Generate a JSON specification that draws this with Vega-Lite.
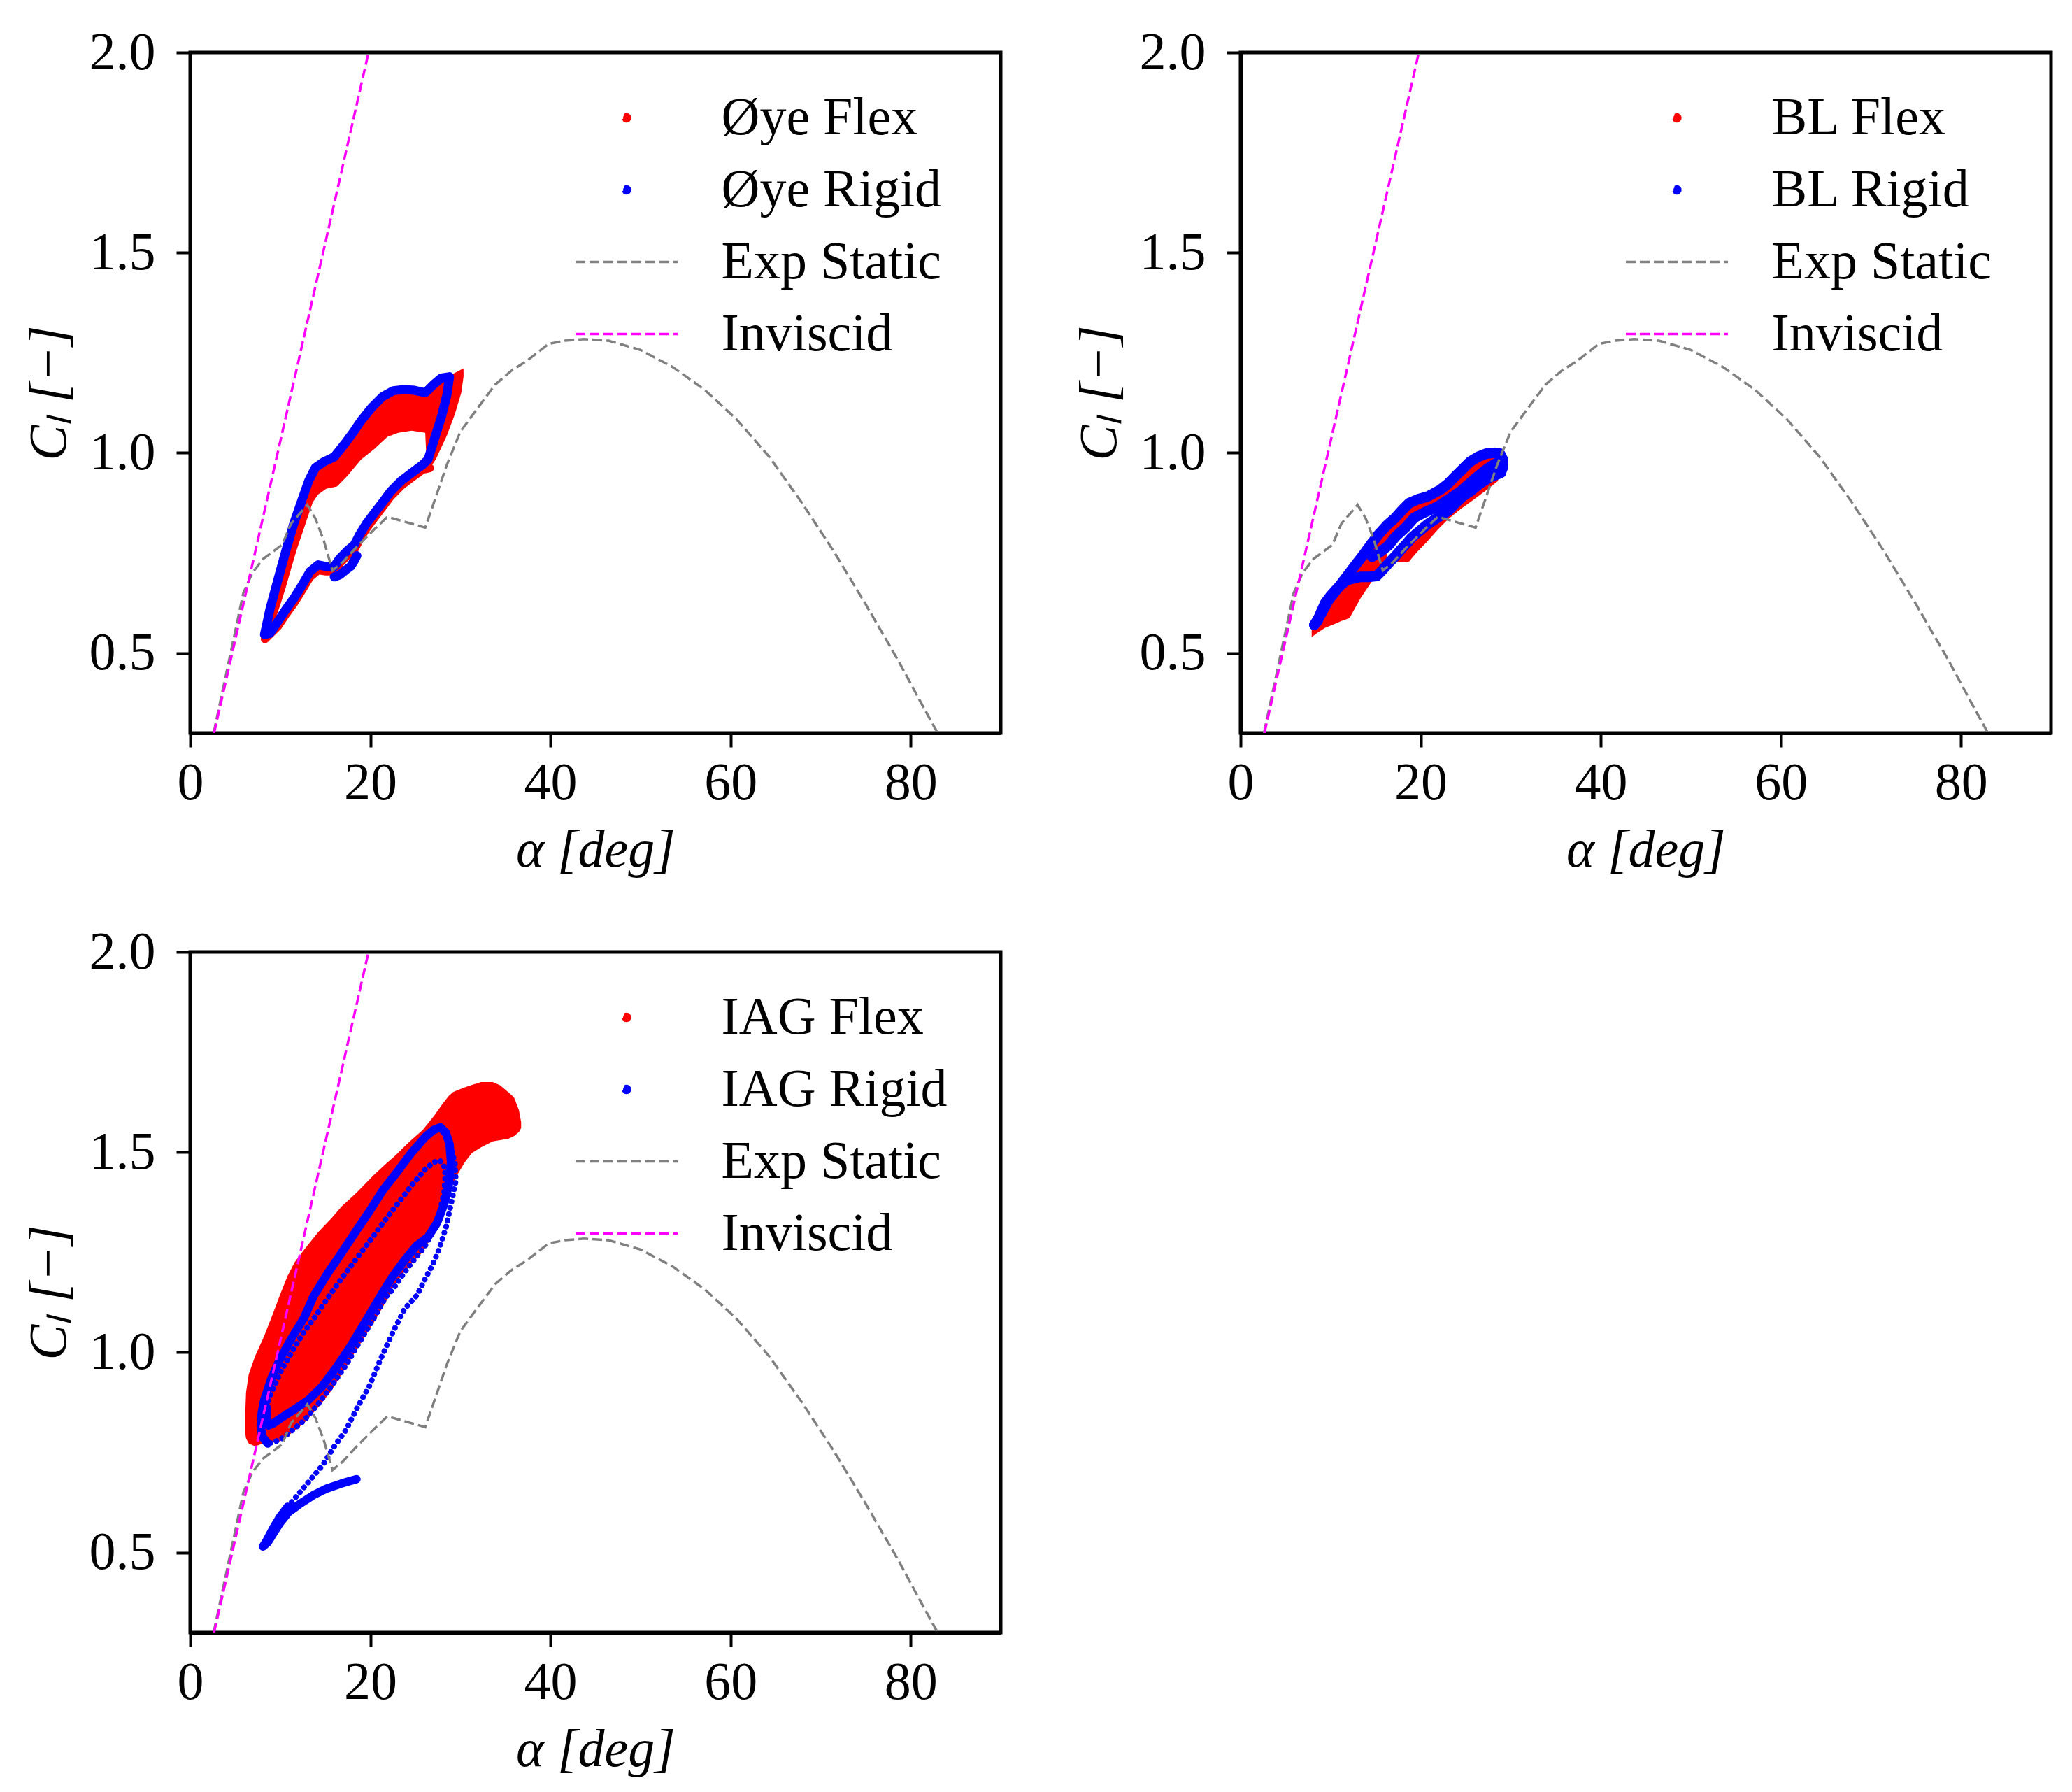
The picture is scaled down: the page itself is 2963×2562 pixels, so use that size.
{
  "$schema": "https://vega.github.io/schema/vega-lite/v6.json",
  "background": "white",
  "padding": {"left": 29, "top": 34, "right": 10, "bottom": 5},
  "config": {
    "font": "Liberation Serif",
    "view": {"stroke": "black", "strokeWidth": 5},
    "axis": {
      "grid": false,
      "domainColor": "black",
      "domainWidth": 5,
      "tickColor": "black",
      "tickWidth": 4,
      "tickSize": 20,
      "labelFont": "Liberation Serif",
      "labelFontSize": 76,
      "labelColor": "black",
      "labelOverlap": false,
      "labelFlush": false,
      "titleFont": "Liberation Serif",
      "titleFontSize": 76,
      "titleFontWeight": "normal",
      "titleFontStyle": "italic",
      "titleColor": "black"
    },
    "axisX": {"labelPadding": 14, "titlePadding": 21},
    "axisY": {"labelPadding": 30, "titlePadding": 18},
    "legend": {
      "orient": "none",
      "legendX": 551,
      "legendY": 42,
      "padding": 0,
      "rowPadding": 13,
      "symbolSize": 9900,
      "symbolStrokeWidth": 3.5,
      "symbolOffset": 21.5,
      "labelOffset": 84,
      "labelFont": "Liberation Serif",
      "labelFontSize": 76,
      "labelColor": "black",
      "labelLimit": 2000
    }
  },
  "datasets": {
    "ref": [
      {"s": "Exp Static", "a": 2.6, "c": 0.3},
      {"s": "Exp Static", "a": 4.3, "c": 0.48},
      {"s": "Exp Static", "a": 5.9, "c": 0.65},
      {"s": "Exp Static", "a": 6.9, "c": 0.7},
      {"s": "Exp Static", "a": 8.1, "c": 0.735},
      {"s": "Exp Static", "a": 10.2, "c": 0.77},
      {"s": "Exp Static", "a": 11.2, "c": 0.823},
      {"s": "Exp Static", "a": 13.0, "c": 0.87},
      {"s": "Exp Static", "a": 13.9, "c": 0.836},
      {"s": "Exp Static", "a": 14.8, "c": 0.783},
      {"s": "Exp Static", "a": 15.8, "c": 0.706},
      {"s": "Exp Static", "a": 16.9, "c": 0.726},
      {"s": "Exp Static", "a": 18.4, "c": 0.763},
      {"s": "Exp Static", "a": 20.5, "c": 0.81},
      {"s": "Exp Static", "a": 21.9, "c": 0.84},
      {"s": "Exp Static", "a": 26.1, "c": 0.813},
      {"s": "Exp Static", "a": 28.5, "c": 0.97},
      {"s": "Exp Static", "a": 30.0, "c": 1.053},
      {"s": "Exp Static", "a": 32.1, "c": 1.117},
      {"s": "Exp Static", "a": 33.85, "c": 1.17},
      {"s": "Exp Static", "a": 35.6, "c": 1.204},
      {"s": "Exp Static", "a": 37.4, "c": 1.23},
      {"s": "Exp Static", "a": 39.8, "c": 1.272},
      {"s": "Exp Static", "a": 41.6, "c": 1.28},
      {"s": "Exp Static", "a": 43.7, "c": 1.284},
      {"s": "Exp Static", "a": 46.45, "c": 1.28},
      {"s": "Exp Static", "a": 50.0, "c": 1.257},
      {"s": "Exp Static", "a": 53.6, "c": 1.214},
      {"s": "Exp Static", "a": 57.15, "c": 1.157},
      {"s": "Exp Static", "a": 60.7, "c": 1.083},
      {"s": "Exp Static", "a": 64.3, "c": 0.99},
      {"s": "Exp Static", "a": 67.9, "c": 0.876},
      {"s": "Exp Static", "a": 71.4, "c": 0.756},
      {"s": "Exp Static", "a": 75.0, "c": 0.622},
      {"s": "Exp Static", "a": 78.6, "c": 0.482},
      {"s": "Exp Static", "a": 81.0, "c": 0.382},
      {"s": "Exp Static", "a": 82.9, "c": 0.304},
      {"s": "Inviscid", "a": 2.65, "c": 0.3},
      {"s": "Inviscid", "a": 19.8, "c": 2.0}
    ],
    "p1_area": [
      {"s": "Øye Flex", "a": 8.2, "lo": 0.545, "hi": 0.555},
      {"s": "Øye Flex", "a": 8.85, "lo": 0.56, "hi": 0.609},
      {"s": "Øye Flex", "a": 9.44, "lo": 0.583, "hi": 0.66},
      {"s": "Øye Flex", "a": 10.04, "lo": 0.623, "hi": 0.707},
      {"s": "Øye Flex", "a": 10.6, "lo": 0.663, "hi": 0.752},
      {"s": "Øye Flex", "a": 11.2, "lo": 0.71, "hi": 0.8},
      {"s": "Øye Flex", "a": 11.8, "lo": 0.756, "hi": 0.842},
      {"s": "Øye Flex", "a": 12.4, "lo": 0.796, "hi": 0.882},
      {"s": "Øye Flex", "a": 13.0, "lo": 0.836, "hi": 0.92},
      {"s": "Øye Flex", "a": 13.6, "lo": 0.876, "hi": 0.952},
      {"s": "Øye Flex", "a": 14.2, "lo": 0.896, "hi": 0.968},
      {"s": "Øye Flex", "a": 15.1, "lo": 0.91, "hi": 0.98},
      {"s": "Øye Flex", "a": 16.3, "lo": 0.916, "hi": 0.995},
      {"s": "Øye Flex", "a": 17.48, "lo": 0.943, "hi": 1.03},
      {"s": "Øye Flex", "a": 18.97, "lo": 0.983, "hi": 1.08},
      {"s": "Øye Flex", "a": 20.46, "lo": 1.01, "hi": 1.12},
      {"s": "Øye Flex", "a": 21.9, "lo": 1.04, "hi": 1.148},
      {"s": "Øye Flex", "a": 23.1, "lo": 1.05, "hi": 1.157},
      {"s": "Øye Flex", "a": 24.6, "lo": 1.055, "hi": 1.157},
      {"s": "Øye Flex", "a": 26.1, "lo": 1.05, "hi": 1.15},
      {"s": "Øye Flex", "a": 26.3, "lo": 0.95, "hi": 1.155},
      {"s": "Øye Flex", "a": 27.3, "lo": 0.985, "hi": 1.172},
      {"s": "Øye Flex", "a": 28.5, "lo": 1.043, "hi": 1.19},
      {"s": "Øye Flex", "a": 29.4, "lo": 1.097, "hi": 1.2},
      {"s": "Øye Flex", "a": 30.1, "lo": 1.15, "hi": 1.208},
      {"s": "Øye Flex", "a": 30.35, "lo": 1.19, "hi": 1.21}
    ],
    "p1_red": [
      {"s": "Øye Flex", "p": "r", "i": 1, "a": 8.3, "c": 0.535},
      {"s": "Øye Flex", "p": "r", "i": 2, "a": 9.74, "c": 0.567},
      {"s": "Øye Flex", "p": "r", "i": 3, "a": 10.63, "c": 0.597},
      {"s": "Øye Flex", "p": "r", "i": 4, "a": 11.5, "c": 0.624},
      {"s": "Øye Flex", "p": "r", "i": 5, "a": 12.42, "c": 0.657},
      {"s": "Øye Flex", "p": "r", "i": 6, "a": 13.3, "c": 0.69},
      {"s": "Øye Flex", "p": "r", "i": 7, "a": 14.2, "c": 0.707},
      {"s": "Øye Flex", "p": "r", "i": 8, "a": 15.1, "c": 0.704},
      {"s": "Øye Flex", "p": "r", "i": 9, "a": 16.0, "c": 0.704},
      {"s": "Øye Flex", "p": "r", "i": 10, "a": 16.6, "c": 0.724},
      {"s": "Øye Flex", "p": "r", "i": 11, "a": 17.48, "c": 0.744},
      {"s": "Øye Flex", "p": "r", "i": 12, "a": 18.22, "c": 0.758},
      {"s": "Øye Flex", "p": "r", "i": 13, "a": 18.82, "c": 0.784},
      {"s": "Øye Flex", "p": "r", "i": 14, "a": 19.56, "c": 0.811},
      {"s": "Øye Flex", "p": "r", "i": 15, "a": 20.46, "c": 0.838},
      {"s": "Øye Flex", "p": "r", "i": 16, "a": 21.35, "c": 0.864},
      {"s": "Øye Flex", "p": "r", "i": 17, "a": 22.24, "c": 0.891},
      {"s": "Øye Flex", "p": "r", "i": 18, "a": 23.43, "c": 0.918},
      {"s": "Øye Flex", "p": "r", "i": 19, "a": 24.6, "c": 0.938},
      {"s": "Øye Flex", "p": "r", "i": 20, "a": 25.8, "c": 0.958},
      {"s": "Øye Flex", "p": "r", "i": 21, "a": 26.6, "c": 0.962}
    ],
    "p1_blue": [
      {"s": "Øye Rigid", "p": "a", "i": 1, "a": 8.25, "c": 0.546},
      {"s": "Øye Rigid", "p": "a", "i": 2, "a": 8.85, "c": 0.609},
      {"s": "Øye Rigid", "p": "a", "i": 3, "a": 9.74, "c": 0.683},
      {"s": "Øye Rigid", "p": "a", "i": 4, "a": 10.63, "c": 0.756},
      {"s": "Øye Rigid", "p": "a", "i": 5, "a": 11.5, "c": 0.823},
      {"s": "Øye Rigid", "p": "a", "i": 6, "a": 12.42, "c": 0.883},
      {"s": "Øye Rigid", "p": "a", "i": 7, "a": 13.16, "c": 0.93},
      {"s": "Øye Rigid", "p": "a", "i": 8, "a": 13.9, "c": 0.963},
      {"s": "Øye Rigid", "p": "a", "i": 9, "a": 14.8, "c": 0.977},
      {"s": "Øye Rigid", "p": "a", "i": 10, "a": 16.0, "c": 0.99},
      {"s": "Øye Rigid", "p": "a", "i": 11, "a": 17.18, "c": 1.023},
      {"s": "Øye Rigid", "p": "a", "i": 12, "a": 18.07, "c": 1.05},
      {"s": "Øye Rigid", "p": "a", "i": 13, "a": 18.97, "c": 1.08},
      {"s": "Øye Rigid", "p": "a", "i": 14, "a": 20.16, "c": 1.113},
      {"s": "Øye Rigid", "p": "a", "i": 15, "a": 21.35, "c": 1.14},
      {"s": "Øye Rigid", "p": "a", "i": 16, "a": 22.54, "c": 1.155},
      {"s": "Øye Rigid", "p": "a", "i": 17, "a": 23.73, "c": 1.158},
      {"s": "Øye Rigid", "p": "a", "i": 18, "a": 24.92, "c": 1.156},
      {"s": "Øye Rigid", "p": "a", "i": 19, "a": 26.1, "c": 1.15},
      {"s": "Øye Rigid", "p": "a", "i": 20, "a": 27.0, "c": 1.17},
      {"s": "Øye Rigid", "p": "a", "i": 21, "a": 27.9, "c": 1.187},
      {"s": "Øye Rigid", "p": "a", "i": 22, "a": 28.79, "c": 1.19},
      {"s": "Øye Rigid", "p": "a", "i": 23, "a": 28.5, "c": 1.144},
      {"s": "Øye Rigid", "p": "a", "i": 24, "a": 27.9, "c": 1.09},
      {"s": "Øye Rigid", "p": "a", "i": 25, "a": 27.15, "c": 1.037},
      {"s": "Øye Rigid", "p": "a", "i": 26, "a": 26.41, "c": 0.983},
      {"s": "Øye Rigid", "p": "a", "i": 27, "a": 25.8, "c": 0.97},
      {"s": "Øye Rigid", "p": "a", "i": 28, "a": 24.6, "c": 0.95},
      {"s": "Øye Rigid", "p": "a", "i": 29, "a": 23.43, "c": 0.93},
      {"s": "Øye Rigid", "p": "a", "i": 30, "a": 22.24, "c": 0.903},
      {"s": "Øye Rigid", "p": "a", "i": 31, "a": 21.35, "c": 0.876},
      {"s": "Øye Rigid", "p": "a", "i": 32, "a": 20.46, "c": 0.85},
      {"s": "Øye Rigid", "p": "a", "i": 33, "a": 19.56, "c": 0.823},
      {"s": "Øye Rigid", "p": "a", "i": 34, "a": 18.82, "c": 0.796},
      {"s": "Øye Rigid", "p": "a", "i": 35, "a": 18.22, "c": 0.77},
      {"s": "Øye Rigid", "p": "a", "i": 36, "a": 17.48, "c": 0.756},
      {"s": "Øye Rigid", "p": "a", "i": 37, "a": 16.6, "c": 0.736},
      {"s": "Øye Rigid", "p": "a", "i": 38, "a": 16.0, "c": 0.716},
      {"s": "Øye Rigid", "p": "a", "i": 39, "a": 15.1, "c": 0.716},
      {"s": "Øye Rigid", "p": "a", "i": 40, "a": 14.2, "c": 0.72},
      {"s": "Øye Rigid", "p": "a", "i": 41, "a": 13.3, "c": 0.703},
      {"s": "Øye Rigid", "p": "a", "i": 42, "a": 12.42, "c": 0.669},
      {"s": "Øye Rigid", "p": "a", "i": 43, "a": 11.5, "c": 0.636},
      {"s": "Øye Rigid", "p": "a", "i": 44, "a": 10.63, "c": 0.609},
      {"s": "Øye Rigid", "p": "a", "i": 45, "a": 9.74, "c": 0.579},
      {"s": "Øye Rigid", "p": "a", "i": 46, "a": 8.85, "c": 0.549},
      {"s": "Øye Rigid", "p": "a", "i": 47, "a": 8.25, "c": 0.546},
      {"s": "Øye Rigid", "p": "b", "i": 1, "a": 16.0, "c": 0.69},
      {"s": "Øye Rigid", "p": "b", "i": 2, "a": 16.6, "c": 0.695},
      {"s": "Øye Rigid", "p": "b", "i": 3, "a": 17.2, "c": 0.706},
      {"s": "Øye Rigid", "p": "b", "i": 4, "a": 17.8, "c": 0.716},
      {"s": "Øye Rigid", "p": "b", "i": 5, "a": 18.2, "c": 0.73},
      {"s": "Øye Rigid", "p": "b", "i": 6, "a": 18.5, "c": 0.743}
    ],
    "p2_area": [
      {"s": "BL Flex", "p": "a", "a": 7.9, "lo": 0.54, "hi": 0.56},
      {"s": "BL Flex", "p": "a", "a": 8.5, "lo": 0.55, "hi": 0.585},
      {"s": "BL Flex", "p": "a", "a": 9.4, "lo": 0.563, "hi": 0.625},
      {"s": "BL Flex", "p": "a", "a": 10.6, "lo": 0.574, "hi": 0.662},
      {"s": "BL Flex", "p": "a", "a": 11.2, "lo": 0.58, "hi": 0.675},
      {"s": "BL Flex", "p": "a", "a": 12.1, "lo": 0.587, "hi": 0.7},
      {"s": "BL Flex", "p": "a", "a": 13.3, "lo": 0.636, "hi": 0.74},
      {"s": "BL Flex", "p": "a", "a": 14.5, "lo": 0.676, "hi": 0.772},
      {"s": "BL Flex", "p": "a", "a": 15.4, "lo": 0.705, "hi": 0.798},
      {"s": "BL Flex", "p": "a", "a": 16.0, "lo": 0.718, "hi": 0.81},
      {"s": "BL Flex", "p": "a", "a": 16.3, "lo": 0.722, "hi": 0.725},
      {"s": "BL Flex", "p": "a", "a": 16.6, "lo": 0.725, "hi": 0.735},
      {"s": "BL Flex", "p": "a", "a": 17.8, "lo": 0.728, "hi": 0.765},
      {"s": "BL Flex", "p": "a", "a": 18.7, "lo": 0.728, "hi": 0.785},
      {"s": "BL Flex", "p": "a", "a": 19.6, "lo": 0.752, "hi": 0.81},
      {"s": "BL Flex", "p": "a", "a": 20.8, "lo": 0.78, "hi": 0.83},
      {"s": "BL Flex", "p": "a", "a": 21.9, "lo": 0.808, "hi": 0.845},
      {"s": "BL Flex", "p": "a", "a": 23.1, "lo": 0.835, "hi": 0.865},
      {"s": "BL Flex", "p": "a", "a": 24.6, "lo": 0.862, "hi": 0.895},
      {"s": "BL Flex", "p": "a", "a": 26.0, "lo": 0.885, "hi": 0.92},
      {"s": "BL Flex", "p": "a", "a": 27.5, "lo": 0.91, "hi": 0.945},
      {"s": "BL Flex", "p": "a", "a": 28.6, "lo": 0.93, "hi": 0.958},
      {"s": "BL Flex", "p": "b", "a": 15.0, "lo": 0.745, "hi": 0.79},
      {"s": "BL Flex", "p": "b", "a": 17.2, "lo": 0.79, "hi": 0.838},
      {"s": "BL Flex", "p": "b", "a": 19.3, "lo": 0.838, "hi": 0.882},
      {"s": "BL Flex", "p": "b", "a": 21.9, "lo": 0.866, "hi": 0.905},
      {"s": "BL Flex", "p": "b", "a": 24.5, "lo": 0.905, "hi": 0.955},
      {"s": "BL Flex", "p": "b", "a": 27.5, "lo": 0.962, "hi": 0.995},
      {"s": "BL Flex", "p": "b", "a": 28.7, "lo": 0.978, "hi": 0.998}
    ],
    "p2_blue": [
      {"s": "BL Rigid", "p": "u", "i": 1, "a": 8.2, "c": 0.57},
      {"s": "BL Rigid", "p": "u", "i": 2, "a": 9.0, "c": 0.6},
      {"s": "BL Rigid", "p": "u", "i": 3, "a": 9.74, "c": 0.631},
      {"s": "BL Rigid", "p": "u", "i": 4, "a": 10.8, "c": 0.662},
      {"s": "BL Rigid", "p": "u", "i": 5, "a": 11.8, "c": 0.691},
      {"s": "BL Rigid", "p": "u", "i": 6, "a": 12.7, "c": 0.718},
      {"s": "BL Rigid", "p": "u", "i": 7, "a": 13.6, "c": 0.744},
      {"s": "BL Rigid", "p": "u", "i": 8, "a": 14.5, "c": 0.772},
      {"s": "BL Rigid", "p": "u", "i": 9, "a": 15.4, "c": 0.798},
      {"s": "BL Rigid", "p": "u", "i": 10, "a": 16.3, "c": 0.82},
      {"s": "BL Rigid", "p": "u", "i": 11, "a": 17.2, "c": 0.838},
      {"s": "BL Rigid", "p": "u", "i": 12, "a": 18.0, "c": 0.858},
      {"s": "BL Rigid", "p": "u", "i": 13, "a": 18.7, "c": 0.874},
      {"s": "BL Rigid", "p": "u", "i": 14, "a": 19.7, "c": 0.884},
      {"s": "BL Rigid", "p": "u", "i": 15, "a": 20.8, "c": 0.891},
      {"s": "BL Rigid", "p": "u", "i": 16, "a": 22.2, "c": 0.908},
      {"s": "BL Rigid", "p": "u", "i": 17, "a": 23.0, "c": 0.922},
      {"s": "BL Rigid", "p": "u", "i": 18, "a": 23.7, "c": 0.938},
      {"s": "BL Rigid", "p": "u", "i": 19, "a": 24.6, "c": 0.958},
      {"s": "BL Rigid", "p": "u", "i": 20, "a": 25.5, "c": 0.978},
      {"s": "BL Rigid", "p": "u", "i": 21, "a": 26.4, "c": 0.99},
      {"s": "BL Rigid", "p": "u", "i": 22, "a": 27.3, "c": 0.998},
      {"s": "BL Rigid", "p": "u", "i": 23, "a": 28.2, "c": 1.0},
      {"s": "BL Rigid", "p": "u", "i": 24, "a": 28.8, "c": 0.998},
      {"s": "BL Rigid", "p": "u", "i": 25, "a": 29.1, "c": 0.985},
      {"s": "BL Rigid", "p": "u", "i": 26, "a": 29.15, "c": 0.965},
      {"s": "BL Rigid", "p": "u", "i": 27, "a": 28.9, "c": 0.95},
      {"s": "BL Rigid", "p": "l", "i": 1, "a": 28.9, "c": 0.95},
      {"s": "BL Rigid", "p": "l", "i": 2, "a": 27.8, "c": 0.94},
      {"s": "BL Rigid", "p": "l", "i": 3, "a": 26.7, "c": 0.925},
      {"s": "BL Rigid", "p": "l", "i": 4, "a": 25.6, "c": 0.905},
      {"s": "BL Rigid", "p": "l", "i": 5, "a": 24.6, "c": 0.89},
      {"s": "BL Rigid", "p": "l", "i": 6, "a": 23.6, "c": 0.868},
      {"s": "BL Rigid", "p": "l", "i": 7, "a": 23.1, "c": 0.856},
      {"s": "BL Rigid", "p": "l", "i": 8, "a": 21.9, "c": 0.838},
      {"s": "BL Rigid", "p": "l", "i": 9, "a": 20.8, "c": 0.822},
      {"s": "BL Rigid", "p": "l", "i": 10, "a": 19.9, "c": 0.805},
      {"s": "BL Rigid", "p": "l", "i": 11, "a": 19.0, "c": 0.788},
      {"s": "BL Rigid", "p": "l", "i": 12, "a": 18.4, "c": 0.772},
      {"s": "BL Rigid", "p": "l", "i": 13, "a": 17.8, "c": 0.758},
      {"s": "BL Rigid", "p": "l", "i": 14, "a": 17.2, "c": 0.742},
      {"s": "BL Rigid", "p": "l", "i": 15, "a": 16.6, "c": 0.728},
      {"s": "BL Rigid", "p": "l", "i": 16, "a": 15.8, "c": 0.708},
      {"s": "BL Rigid", "p": "l", "i": 17, "a": 15.1, "c": 0.692},
      {"s": "BL Rigid", "p": "l", "i": 18, "a": 14.2, "c": 0.69},
      {"s": "BL Rigid", "p": "l", "i": 19, "a": 13.3, "c": 0.69},
      {"s": "BL Rigid", "p": "l", "i": 20, "a": 12.5, "c": 0.686},
      {"s": "BL Rigid", "p": "l", "i": 21, "a": 11.8, "c": 0.682},
      {"s": "BL Rigid", "p": "l", "i": 22, "a": 11.2, "c": 0.671},
      {"s": "BL Rigid", "p": "l", "i": 23, "a": 10.6, "c": 0.658},
      {"s": "BL Rigid", "p": "l", "i": 24, "a": 10.0, "c": 0.643},
      {"s": "BL Rigid", "p": "l", "i": 25, "a": 9.4, "c": 0.625},
      {"s": "BL Rigid", "p": "l", "i": 26, "a": 8.9, "c": 0.6},
      {"s": "BL Rigid", "p": "l", "i": 27, "a": 8.55, "c": 0.58},
      {"s": "BL Rigid", "p": "l", "i": 28, "a": 8.2, "c": 0.57},
      {"s": "BL Rigid", "p": "m", "i": 1, "a": 14.6, "c": 0.74},
      {"s": "BL Rigid", "p": "m", "i": 2, "a": 15.5, "c": 0.752},
      {"s": "BL Rigid", "p": "m", "i": 3, "a": 16.4, "c": 0.768},
      {"s": "BL Rigid", "p": "m", "i": 4, "a": 17.2, "c": 0.79},
      {"s": "BL Rigid", "p": "m", "i": 5, "a": 18.4, "c": 0.815},
      {"s": "BL Rigid", "p": "m", "i": 6, "a": 19.3, "c": 0.838},
      {"s": "BL Rigid", "p": "m", "i": 7, "a": 20.5, "c": 0.852},
      {"s": "BL Rigid", "p": "m", "i": 8, "a": 21.9, "c": 0.866},
      {"s": "BL Rigid", "p": "m", "i": 9, "a": 23.0, "c": 0.882},
      {"s": "BL Rigid", "p": "m", "i": 10, "a": 24.5, "c": 0.905},
      {"s": "BL Rigid", "p": "m", "i": 11, "a": 26.0, "c": 0.935},
      {"s": "BL Rigid", "p": "m", "i": 12, "a": 27.5, "c": 0.962},
      {"s": "BL Rigid", "p": "m", "i": 13, "a": 28.7, "c": 0.978}
    ],
    "p3_area": [
      {"s": "IAG Flex", "a": 6.1, "lo": 0.8, "hi": 0.84},
      {"s": "IAG Flex", "a": 6.2, "lo": 0.785, "hi": 0.9},
      {"s": "IAG Flex", "a": 6.5, "lo": 0.772, "hi": 0.945},
      {"s": "IAG Flex", "a": 7.2, "lo": 0.765, "hi": 0.99},
      {"s": "IAG Flex", "a": 8.2, "lo": 0.773, "hi": 1.04},
      {"s": "IAG Flex", "a": 9.25, "lo": 0.775, "hi": 1.1},
      {"s": "IAG Flex", "a": 10.0, "lo": 0.778, "hi": 1.145},
      {"s": "IAG Flex", "a": 10.8, "lo": 0.79, "hi": 1.19},
      {"s": "IAG Flex", "a": 11.6, "lo": 0.805, "hi": 1.225},
      {"s": "IAG Flex", "a": 12.6, "lo": 0.822, "hi": 1.255},
      {"s": "IAG Flex", "a": 14.2, "lo": 0.862, "hi": 1.3},
      {"s": "IAG Flex", "a": 15.7, "lo": 0.905, "hi": 1.335},
      {"s": "IAG Flex", "a": 16.8, "lo": 0.945, "hi": 1.364},
      {"s": "IAG Flex", "a": 18.3, "lo": 1.0, "hi": 1.395},
      {"s": "IAG Flex", "a": 19.4, "lo": 1.04, "hi": 1.42},
      {"s": "IAG Flex", "a": 20.4, "lo": 1.075, "hi": 1.443},
      {"s": "IAG Flex", "a": 21.7, "lo": 1.125, "hi": 1.47},
      {"s": "IAG Flex", "a": 22.7, "lo": 1.17, "hi": 1.49},
      {"s": "IAG Flex", "a": 24.3, "lo": 1.215, "hi": 1.525},
      {"s": "IAG Flex", "a": 25.8, "lo": 1.25, "hi": 1.555},
      {"s": "IAG Flex", "a": 27.1, "lo": 1.3, "hi": 1.591},
      {"s": "IAG Flex", "a": 28.0, "lo": 1.345, "hi": 1.62},
      {"s": "IAG Flex", "a": 28.7, "lo": 1.4, "hi": 1.64},
      {"s": "IAG Flex", "a": 29.2, "lo": 1.42, "hi": 1.65},
      {"s": "IAG Flex", "a": 29.7, "lo": 1.445, "hi": 1.655},
      {"s": "IAG Flex", "a": 30.5, "lo": 1.475, "hi": 1.662},
      {"s": "IAG Flex", "a": 31.3, "lo": 1.498, "hi": 1.668},
      {"s": "IAG Flex", "a": 32.3, "lo": 1.512, "hi": 1.675},
      {"s": "IAG Flex", "a": 33.6, "lo": 1.527, "hi": 1.675},
      {"s": "IAG Flex", "a": 34.4, "lo": 1.53, "hi": 1.667},
      {"s": "IAG Flex", "a": 35.3, "lo": 1.533, "hi": 1.65},
      {"s": "IAG Flex", "a": 35.95, "lo": 1.54, "hi": 1.637},
      {"s": "IAG Flex", "a": 36.5, "lo": 1.55, "hi": 1.605},
      {"s": "IAG Flex", "a": 36.75, "lo": 1.56, "hi": 1.575}
    ],
    "p3_dense": [
      {"s": "IAG Rigid", "p": "t1", "i": 1, "a": 8.6, "c": 0.772},
      {"s": "IAG Rigid", "p": "t1", "i": 2, "a": 8.0, "c": 0.79},
      {"s": "IAG Rigid", "p": "t1", "i": 3, "a": 7.83, "c": 0.817},
      {"s": "IAG Rigid", "p": "t1", "i": 4, "a": 7.95, "c": 0.85},
      {"s": "IAG Rigid", "p": "t1", "i": 5, "a": 8.22, "c": 0.881},
      {"s": "IAG Rigid", "p": "t1", "i": 6, "a": 9.0, "c": 0.934},
      {"s": "IAG Rigid", "p": "t1", "i": 7, "a": 10.03, "c": 0.986},
      {"s": "IAG Rigid", "p": "t1", "i": 8, "a": 11.33, "c": 1.038},
      {"s": "IAG Rigid", "p": "t1", "i": 9, "a": 12.62, "c": 1.085},
      {"s": "IAG Rigid", "p": "t1", "i": 10, "a": 13.7, "c": 1.14},
      {"s": "IAG Rigid", "p": "t1", "i": 11, "a": 15.2, "c": 1.195},
      {"s": "IAG Rigid", "p": "t1", "i": 12, "a": 16.8, "c": 1.248},
      {"s": "IAG Rigid", "p": "t1", "i": 13, "a": 18.33, "c": 1.3},
      {"s": "IAG Rigid", "p": "t1", "i": 14, "a": 19.9, "c": 1.352},
      {"s": "IAG Rigid", "p": "t1", "i": 15, "a": 21.4, "c": 1.405},
      {"s": "IAG Rigid", "p": "t1", "i": 16, "a": 23.0, "c": 1.451},
      {"s": "IAG Rigid", "p": "t1", "i": 17, "a": 24.55, "c": 1.498},
      {"s": "IAG Rigid", "p": "t1", "i": 18, "a": 26.1, "c": 1.538},
      {"s": "IAG Rigid", "p": "t1", "i": 19, "a": 27.0, "c": 1.555},
      {"s": "IAG Rigid", "p": "t1", "i": 20, "a": 27.79, "c": 1.562},
      {"s": "IAG Rigid", "p": "t1", "i": 21, "a": 28.4, "c": 1.548},
      {"s": "IAG Rigid", "p": "t1", "i": 22, "a": 28.8, "c": 1.52},
      {"s": "IAG Rigid", "p": "t1", "i": 23, "a": 28.96, "c": 1.474},
      {"s": "IAG Rigid", "p": "t1", "i": 24, "a": 28.7, "c": 1.416},
      {"s": "IAG Rigid", "p": "t1", "i": 25, "a": 28.2, "c": 1.37},
      {"s": "IAG Rigid", "p": "t1", "i": 26, "a": 27.4, "c": 1.323},
      {"s": "IAG Rigid", "p": "t1", "i": 27, "a": 26.4, "c": 1.288},
      {"s": "IAG Rigid", "p": "t1", "i": 28, "a": 25.07, "c": 1.265},
      {"s": "IAG Rigid", "p": "t1", "i": 29, "a": 23.8, "c": 1.23},
      {"s": "IAG Rigid", "p": "t1", "i": 30, "a": 22.5, "c": 1.19},
      {"s": "IAG Rigid", "p": "t1", "i": 31, "a": 21.2, "c": 1.143},
      {"s": "IAG Rigid", "p": "t1", "i": 32, "a": 19.36, "c": 1.073},
      {"s": "IAG Rigid", "p": "t1", "i": 33, "a": 17.8, "c": 1.015},
      {"s": "IAG Rigid", "p": "t1", "i": 34, "a": 16.25, "c": 0.963},
      {"s": "IAG Rigid", "p": "t1", "i": 35, "a": 14.7, "c": 0.916},
      {"s": "IAG Rigid", "p": "t1", "i": 36, "a": 13.14, "c": 0.881},
      {"s": "IAG Rigid", "p": "t1", "i": 37, "a": 11.6, "c": 0.858},
      {"s": "IAG Rigid", "p": "t1", "i": 38, "a": 10.03, "c": 0.835},
      {"s": "IAG Rigid", "p": "t1", "i": 39, "a": 9.2, "c": 0.822},
      {"s": "IAG Rigid", "p": "t1", "i": 40, "a": 8.7, "c": 0.817},
      {"s": "IAG Rigid", "p": "t1", "i": 41, "a": 8.45, "c": 0.835},
      {"s": "IAG Rigid", "p": "t1", "i": 42, "a": 8.47, "c": 0.864},
      {"s": "IAG Rigid", "p": "t2", "i": 1, "a": 18.46, "c": 0.683},
      {"s": "IAG Rigid", "p": "t2", "i": 2, "a": 17.5, "c": 0.677},
      {"s": "IAG Rigid", "p": "t2", "i": 3, "a": 16.77, "c": 0.672},
      {"s": "IAG Rigid", "p": "t2", "i": 4, "a": 15.2, "c": 0.66},
      {"s": "IAG Rigid", "p": "t2", "i": 5, "a": 13.66, "c": 0.643},
      {"s": "IAG Rigid", "p": "t2", "i": 6, "a": 12.1, "c": 0.62},
      {"s": "IAG Rigid", "p": "t2", "i": 7, "a": 10.9, "c": 0.6},
      {"s": "IAG Rigid", "p": "t2", "i": 8, "a": 10.0, "c": 0.575},
      {"s": "IAG Rigid", "p": "t2", "i": 9, "a": 9.3, "c": 0.55},
      {"s": "IAG Rigid", "p": "t2", "i": 10, "a": 8.6, "c": 0.525},
      {"s": "IAG Rigid", "p": "t2", "i": 11, "a": 8.09, "c": 0.515},
      {"s": "IAG Rigid", "p": "t2", "i": 12, "a": 8.5, "c": 0.53},
      {"s": "IAG Rigid", "p": "t2", "i": 13, "a": 9.2, "c": 0.56},
      {"s": "IAG Rigid", "p": "t2", "i": 14, "a": 10.0, "c": 0.59},
      {"s": "IAG Rigid", "p": "t2", "i": 15, "a": 10.81, "c": 0.614}
    ],
    "p3_sparse": [
      {"s": "IAG Rigid", "p": "s1", "i": 1, "a": 8.47, "c": 0.864},
      {"s": "IAG Rigid", "p": "s1", "i": 2, "a": 9.0, "c": 0.899},
      {"s": "IAG Rigid", "p": "s1", "i": 3, "a": 10.03, "c": 0.951},
      {"s": "IAG Rigid", "p": "s1", "i": 4, "a": 11.33, "c": 1.003},
      {"s": "IAG Rigid", "p": "s1", "i": 5, "a": 12.62, "c": 1.05},
      {"s": "IAG Rigid", "p": "s1", "i": 6, "a": 13.9, "c": 1.09},
      {"s": "IAG Rigid", "p": "s1", "i": 7, "a": 15.5, "c": 1.143},
      {"s": "IAG Rigid", "p": "s1", "i": 8, "a": 16.8, "c": 1.184},
      {"s": "IAG Rigid", "p": "s1", "i": 9, "a": 18.33, "c": 1.23},
      {"s": "IAG Rigid", "p": "s1", "i": 10, "a": 19.9, "c": 1.277},
      {"s": "IAG Rigid", "p": "s1", "i": 11, "a": 21.4, "c": 1.323},
      {"s": "IAG Rigid", "p": "s1", "i": 12, "a": 23.0, "c": 1.37},
      {"s": "IAG Rigid", "p": "s1", "i": 13, "a": 24.55, "c": 1.416},
      {"s": "IAG Rigid", "p": "s1", "i": 14, "a": 26.1, "c": 1.457},
      {"s": "IAG Rigid", "p": "s1", "i": 15, "a": 27.0, "c": 1.474},
      {"s": "IAG Rigid", "p": "s1", "i": 16, "a": 27.66, "c": 1.48},
      {"s": "IAG Rigid", "p": "s1", "i": 17, "a": 28.1, "c": 1.47},
      {"s": "IAG Rigid", "p": "s1", "i": 18, "a": 28.3, "c": 1.457},
      {"s": "IAG Rigid", "p": "s1", "i": 19, "a": 28.3, "c": 1.43},
      {"s": "IAG Rigid", "p": "s1", "i": 20, "a": 28.2, "c": 1.399},
      {"s": "IAG Rigid", "p": "s1", "i": 21, "a": 27.66, "c": 1.346},
      {"s": "IAG Rigid", "p": "s1", "i": 22, "a": 26.9, "c": 1.3},
      {"s": "IAG Rigid", "p": "s1", "i": 23, "a": 26.0, "c": 1.262},
      {"s": "IAG Rigid", "p": "s1", "i": 24, "a": 25.0, "c": 1.235},
      {"s": "IAG Rigid", "p": "s1", "i": 25, "a": 23.8, "c": 1.2},
      {"s": "IAG Rigid", "p": "s1", "i": 26, "a": 22.6, "c": 1.16},
      {"s": "IAG Rigid", "p": "s1", "i": 27, "a": 21.7, "c": 1.137},
      {"s": "IAG Rigid", "p": "s1", "i": 28, "a": 20.4, "c": 1.085},
      {"s": "IAG Rigid", "p": "s1", "i": 29, "a": 18.84, "c": 1.027},
      {"s": "IAG Rigid", "p": "s1", "i": 30, "a": 17.3, "c": 0.968},
      {"s": "IAG Rigid", "p": "s1", "i": 31, "a": 15.7, "c": 0.916},
      {"s": "IAG Rigid", "p": "s1", "i": 32, "a": 14.18, "c": 0.87},
      {"s": "IAG Rigid", "p": "s1", "i": 33, "a": 12.62, "c": 0.829},
      {"s": "IAG Rigid", "p": "s1", "i": 34, "a": 11.07, "c": 0.8},
      {"s": "IAG Rigid", "p": "s1", "i": 35, "a": 10.03, "c": 0.782},
      {"s": "IAG Rigid", "p": "s1", "i": 36, "a": 8.99, "c": 0.774},
      {"s": "IAG Rigid", "p": "s1", "i": 37, "a": 8.6, "c": 0.772},
      {"s": "IAG Rigid", "p": "s2", "i": 1, "a": 10.81, "c": 0.614},
      {"s": "IAG Rigid", "p": "s2", "i": 2, "a": 12.1, "c": 0.648},
      {"s": "IAG Rigid", "p": "s2", "i": 3, "a": 13.4, "c": 0.683},
      {"s": "IAG Rigid", "p": "s2", "i": 4, "a": 14.7, "c": 0.718},
      {"s": "IAG Rigid", "p": "s2", "i": 5, "a": 16.0, "c": 0.765},
      {"s": "IAG Rigid", "p": "s2", "i": 6, "a": 17.3, "c": 0.806},
      {"s": "IAG Rigid", "p": "s2", "i": 7, "a": 18.6, "c": 0.864},
      {"s": "IAG Rigid", "p": "s2", "i": 8, "a": 19.9, "c": 0.916},
      {"s": "IAG Rigid", "p": "s2", "i": 9, "a": 21.2, "c": 0.986},
      {"s": "IAG Rigid", "p": "s2", "i": 10, "a": 22.5, "c": 1.05},
      {"s": "IAG Rigid", "p": "s2", "i": 11, "a": 23.8, "c": 1.108},
      {"s": "IAG Rigid", "p": "s2", "i": 12, "a": 25.2, "c": 1.143},
      {"s": "IAG Rigid", "p": "s2", "i": 13, "a": 26.1, "c": 1.184},
      {"s": "IAG Rigid", "p": "s2", "i": 14, "a": 26.9, "c": 1.218},
      {"s": "IAG Rigid", "p": "s2", "i": 15, "a": 27.66, "c": 1.259},
      {"s": "IAG Rigid", "p": "s2", "i": 16, "a": 28.4, "c": 1.312},
      {"s": "IAG Rigid", "p": "s2", "i": 17, "a": 28.96, "c": 1.37},
      {"s": "IAG Rigid", "p": "s2", "i": 18, "a": 29.5, "c": 1.428},
      {"s": "IAG Rigid", "p": "s2", "i": 19, "a": 29.4, "c": 1.47},
      {"s": "IAG Rigid", "p": "s2", "i": 20, "a": 29.0, "c": 1.51}
    ]
  },
  "resolve": {"scale": {"color": "independent"}, "legend": {"color": "independent"}},
  "vconcat": [
    {
      "resolve": {"scale": {"color": "independent"}, "legend": {"color": "independent"}},
      "hconcat": [
        {
          "width": 1159,
          "height": 973,
          "encoding": {
            "x": {"field": "a", "type": "quantitative", "scale": {"domain": [0, 90], "nice": false, "zero": false}, "axis": {"values": [0, 20, 40, 60, 80], "format": "d"}, "title": "α [deg]"},
            "y": {"field": "c", "type": "quantitative", "scale": {"domain": [0.3, 2.0], "nice": false, "zero": false}, "axis": {"values": [0.5, 1.0, 1.5, 2.0], "format": ".1f"}, "title": "Cₗ [−]"},
            "color": {
              "field": "s", "type": "nominal",
              "scale": {"domain": ["Øye Flex", "Øye Rigid", "Exp Static", "Inviscid"], "range": ["#ff0000", "#0000ff", "#808080", "#ff00ff"]},
              "legend": {
                "title": null,
                "encode": {"symbols": {"update": {
                  "shape": {"signal": "indexof(datum.value, 'Flex') >= 0 || indexof(datum.value, 'Rigid') >= 0 ? 'M0.1,0A0.1,0.1,0,1,1,-0.1,0A0.1,0.1,0,1,1,0.1,0Z' : 'M-1.467,0H1.467'"},
                  "fill": {"signal": "indexof(datum.value, 'Flex') >= 0 ? '#ff0000' : indexof(datum.value, 'Rigid') >= 0 ? '#0000ff' : 'transparent'"},
                  "stroke": {"signal": "datum.value === 'Exp Static' ? '#808080' : datum.value === 'Inviscid' ? '#ff00ff' : 'transparent'"},
                  "strokeDash": {"value": [14, 6]},
                  "strokeWidth": {"value": 3.5},
                  "opacity": {"value": 1}
                }}}
              }
            }
          },
          "layer": [
            {
              "data": {"name": "p1_area"},
              "mark": {"type": "area", "clip": true},
              "encoding": {
                "y": {"field": "lo", "type": "quantitative", "scale": {"domain": [0.3, 2.0], "nice": false, "zero": false}, "axis": {"values": [0.5, 1.0, 1.5, 2.0], "format": ".1f"}, "title": "Cₗ [−]"},
                "y2": {"field": "hi"}
              }
            },
            {
              "data": {"name": "p1_red"},
              "mark": {"type": "line", "strokeWidth": 12, "strokeCap": "round", "strokeJoin": "round", "clip": true},
              "encoding": {"order": {"field": "i", "type": "quantitative"}, "detail": {"field": "p"}}
            },
            {
              "data": {"name": "p1_blue"},
              "mark": {"type": "line", "strokeWidth": 13, "strokeCap": "round", "strokeJoin": "round", "clip": true},
              "encoding": {"order": {"field": "i", "type": "quantitative"}, "detail": {"field": "p"}}
            },
            {
              "data": {"name": "ref"},
              "mark": {"type": "line", "strokeWidth": 3.5, "strokeDash": [14, 6], "clip": true}
            }
          ]
        },
        {
          "width": 1159,
          "height": 973,
          "encoding": {
            "x": {"field": "a", "type": "quantitative", "scale": {"domain": [0, 90], "nice": false, "zero": false}, "axis": {"values": [0, 20, 40, 60, 80], "format": "d"}, "title": "α [deg]"},
            "y": {"field": "c", "type": "quantitative", "scale": {"domain": [0.3, 2.0], "nice": false, "zero": false}, "axis": {"values": [0.5, 1.0, 1.5, 2.0], "format": ".1f"}, "title": "Cₗ [−]"},
            "color": {
              "field": "s", "type": "nominal",
              "scale": {"domain": ["BL Flex", "BL Rigid", "Exp Static", "Inviscid"], "range": ["#ff0000", "#0000ff", "#808080", "#ff00ff"]},
              "legend": {
                "title": null,
                "encode": {"symbols": {"update": {
                  "shape": {"signal": "indexof(datum.value, 'Flex') >= 0 || indexof(datum.value, 'Rigid') >= 0 ? 'M0.1,0A0.1,0.1,0,1,1,-0.1,0A0.1,0.1,0,1,1,0.1,0Z' : 'M-1.467,0H1.467'"},
                  "fill": {"signal": "indexof(datum.value, 'Flex') >= 0 ? '#ff0000' : indexof(datum.value, 'Rigid') >= 0 ? '#0000ff' : 'transparent'"},
                  "stroke": {"signal": "datum.value === 'Exp Static' ? '#808080' : datum.value === 'Inviscid' ? '#ff00ff' : 'transparent'"},
                  "strokeDash": {"value": [14, 6]},
                  "strokeWidth": {"value": 3.5},
                  "opacity": {"value": 1}
                }}}
              }
            }
          },
          "layer": [
            {
              "data": {"name": "p2_area"},
              "mark": {"type": "area", "clip": true},
              "encoding": {
                "y": {"field": "lo", "type": "quantitative", "scale": {"domain": [0.3, 2.0], "nice": false, "zero": false}, "axis": {"values": [0.5, 1.0, 1.5, 2.0], "format": ".1f"}, "title": "Cₗ [−]"},
                "y2": {"field": "hi"},
                "detail": {"field": "p"}
              }
            },
            {
              "data": {"name": "p2_blue"},
              "mark": {"type": "line", "strokeWidth": 15, "strokeCap": "round", "strokeJoin": "round", "clip": true},
              "encoding": {"order": {"field": "i", "type": "quantitative"}, "detail": {"field": "p"}}
            },
            {
              "data": {"name": "ref"},
              "mark": {"type": "line", "strokeWidth": 3.5, "strokeDash": [14, 6], "clip": true}
            }
          ]
        }
      ],
      "spacing": 97
    },
    {
      "width": 1159,
      "height": 973,
      "encoding": {
        "x": {"field": "a", "type": "quantitative", "scale": {"domain": [0, 90], "nice": false, "zero": false}, "axis": {"values": [0, 20, 40, 60, 80], "format": "d"}, "title": "α [deg]"},
        "y": {"field": "c", "type": "quantitative", "scale": {"domain": [0.3, 2.0], "nice": false, "zero": false}, "axis": {"values": [0.5, 1.0, 1.5, 2.0], "format": ".1f"}, "title": "Cₗ [−]"},
        "color": {
          "field": "s", "type": "nominal",
          "scale": {"domain": ["IAG Flex", "IAG Rigid", "Exp Static", "Inviscid"], "range": ["#ff0000", "#0000ff", "#808080", "#ff00ff"]},
          "legend": {
            "title": null,
            "encode": {"symbols": {"update": {
              "shape": {"signal": "indexof(datum.value, 'Flex') >= 0 || indexof(datum.value, 'Rigid') >= 0 ? 'M0.1,0A0.1,0.1,0,1,1,-0.1,0A0.1,0.1,0,1,1,0.1,0Z' : 'M-1.467,0H1.467'"},
              "fill": {"signal": "indexof(datum.value, 'Flex') >= 0 ? '#ff0000' : indexof(datum.value, 'Rigid') >= 0 ? '#0000ff' : 'transparent'"},
              "stroke": {"signal": "datum.value === 'Exp Static' ? '#808080' : datum.value === 'Inviscid' ? '#ff00ff' : 'transparent'"},
              "strokeDash": {"value": [14, 6]},
              "strokeWidth": {"value": 3.5},
              "opacity": {"value": 1}
            }}}
          }
        }
      },
      "layer": [
        {
          "data": {"name": "p3_area"},
          "mark": {"type": "area", "clip": true},
          "encoding": {
            "y": {"field": "lo", "type": "quantitative", "scale": {"domain": [0.3, 2.0], "nice": false, "zero": false}, "axis": {"values": [0.5, 1.0, 1.5, 2.0], "format": ".1f"}, "title": "Cₗ [−]"},
            "y2": {"field": "hi"}
          }
        },
        {
          "data": {"name": "p3_dense"},
          "mark": {"type": "line", "strokeWidth": 12, "strokeCap": "round", "strokeJoin": "round", "clip": true},
          "encoding": {"order": {"field": "i", "type": "quantitative"}, "detail": {"field": "p"}}
        },
        {
          "data": {"name": "p3_sparse"},
          "mark": {"type": "line", "strokeWidth": 8, "strokeDash": [0.1, 9], "strokeCap": "round", "clip": true},
          "encoding": {"order": {"field": "i", "type": "quantitative"}, "detail": {"field": "p"}}
        },
        {
          "data": {"name": "ref"},
          "mark": {"type": "line", "strokeWidth": 3.5, "strokeDash": [14, 6], "clip": true}
        }
      ]
    }
  ],
  "spacing": 64
}
